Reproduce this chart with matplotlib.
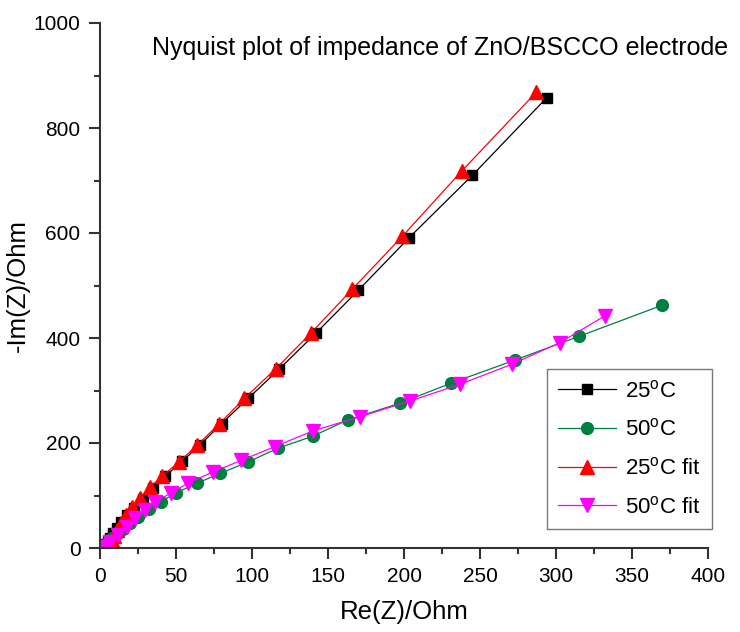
import numpy as np
import matplotlib
matplotlib.use("Agg")
import matplotlib.pyplot as plt
from matplotlib.ticker import MultipleLocator

plt.rcParams["font.family"] = ["Liberation Sans", "DejaVu Sans"]
plt.rcParams["mathtext.fontset"] = "custom"
plt.rcParams["mathtext.rm"] = "Liberation Sans"

# 25 C measured
re_25 = [294, 245, 203, 170, 142, 118, 97.5, 80, 66, 54, 43, 35, 28, 22.5, 18, 14, 11, 8.5, 6.5, 5, 4]
im_25 = [858, 710, 590, 491, 409, 341, 285, 237, 197, 165, 137, 114, 94, 77, 62, 49, 38, 28, 20, 13, 7]
# 50 C measured
re_50 = [369.5, 315, 273, 231, 197.5, 163, 140, 117, 97.5, 79, 63.5, 50, 40, 32, 25, 19.5, 15, 11, 8, 5.5, 3.5, 2]
im_50 = [462, 403, 358, 314, 276, 244, 213, 190, 164, 142, 123, 105, 88, 74, 60, 48, 37, 27, 19, 12, 6, 2]
# 25 C fit
re_25f = [287, 238, 199, 166, 139, 115.5, 95, 78.3, 64, 52, 41, 33, 26.5, 21, 17, 13.5, 11, 9.5, 8.5, 8]
im_25f = [868, 718, 594, 493, 410, 341, 285, 236, 196, 164, 137, 116, 95, 78, 62, 48, 35, 22, 12, 3]
# 50 C fit
re_50f = [332, 302.5, 271, 237, 204, 171, 140, 115, 93, 74.5, 58, 47, 36, 29.5, 23, 17.5, 12, 6.5, 2]
im_50f = [442, 391, 350, 312, 280, 250, 223, 193, 167, 145, 124, 105, 88, 72, 57, 40, 25, 12, 2.5]

GREEN = "#007f3f"

fig = plt.figure(figsize=(7.4, 6.32), dpi=100)
ax = fig.add_axes([100 / 740, 1 - 548 / 632, 608 / 740, 525 / 632])

ax.plot(re_25, im_25, "-s", color="black", lw=0.9, ms=7.5, label="25$^{\\mathrm{o}}$C")
ax.plot(re_50, im_50, "-o", color=GREEN, lw=0.9, ms=8.5, label="50$^{\\mathrm{o}}$C")
ax.plot(re_25f, im_25f, "-^", color="red", lw=0.9, ms=9.5, label="25$^{\\mathrm{o}}$C fit")
ax.plot(re_50f, im_50f, "-v", color="magenta", lw=0.9, ms=9.5, label="50$^{\\mathrm{o}}$C fit")

ax.set_xlim(0, 400)
ax.set_ylim(0, 1000)
ax.xaxis.set_major_locator(MultipleLocator(50))
ax.xaxis.set_minor_locator(MultipleLocator(25))
ax.yaxis.set_major_locator(MultipleLocator(200))
ax.yaxis.set_minor_locator(MultipleLocator(100))
for s in ("top", "right"):
    ax.spines[s].set_visible(False)
for s in ("left", "bottom"):
    ax.spines[s].set_linewidth(1.5)
    ax.spines[s].set_color("#333333")
ax.tick_params(which="major", direction="out", length=8, width=1.5, labelsize=15, color="#333333", pad=6)
ax.tick_params(which="minor", direction="out", length=4, width=1.5, color="#333333")

ax.set_xlabel("Re(Z)/Ohm", fontsize=18.5, labelpad=10)
ax.set_ylabel("-Im(Z)/Ohm", fontsize=18.5, labelpad=3)

fig.text(152 / 740, 1 - 48 / 632, "Nyquist plot of impedance of ZnO/BSCCO electrode",
         fontsize=18, va="center", ha="left")

leg = ax.legend(loc="lower right", bbox_to_anchor=(1.006, 0.036), fontsize=16, frameon=True,
                fancybox=False, edgecolor="#555555", handlelength=2.6, borderpad=0.5,
                labelspacing=0.75, handletextpad=0.4, borderaxespad=0)
leg.get_frame().set_linewidth(1.0)

fig.savefig("out.png", dpi=100)
